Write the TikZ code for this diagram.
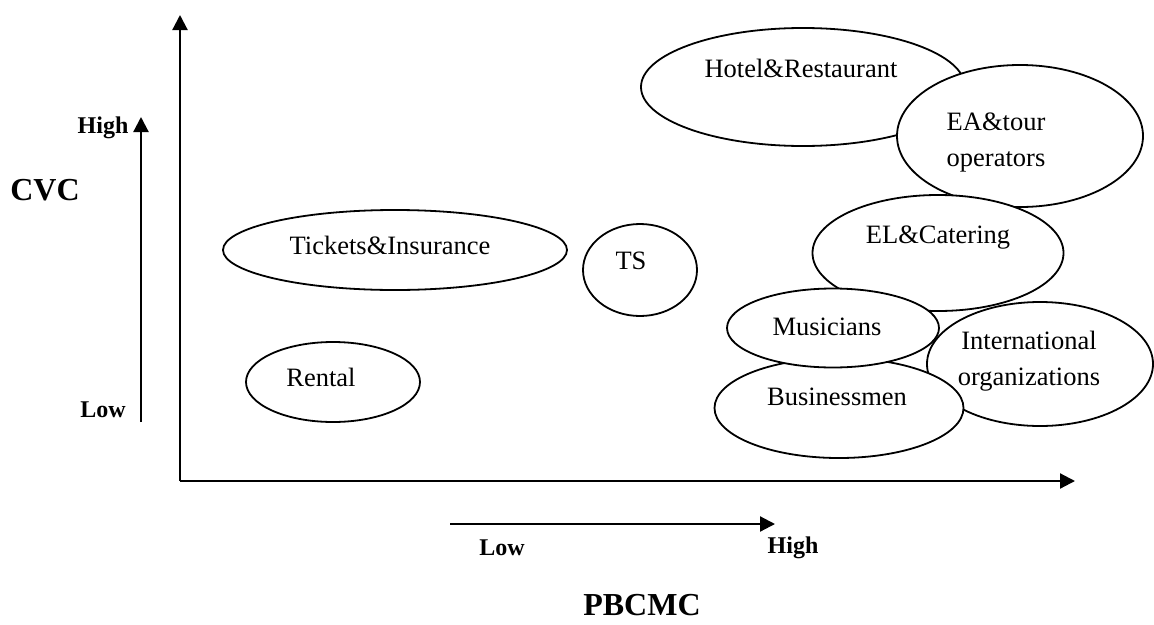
\documentclass[tikz,border=0pt]{standalone}
\usepackage{fontspec}
\setmainfont{Liberation Serif}
\usetikzlibrary{shapes.geometric,arrows.meta}
\tikzset{
  bubble/.style={ellipse,draw,line width=1.8pt,fill=white,inner sep=0pt},
  btxt/.style={inner sep=0pt,align=center,font=\fontsize{26.5}{36}\selectfont},
  axis/.style={line width=2.2pt,-{Triangle[length=15pt,width=15pt]}},
  small/.style={inner sep=0pt,font=\fontsize{24}{28}\selectfont\bfseries},
  big/.style={inner sep=0pt,font=\fontsize{32}{36}\selectfont\bfseries}
}
\begin{document}
\begin{tikzpicture}[x=1pt,y=-1pt]
\useasboundingbox (0,0) rectangle (1154,624);
% axes
\coordinate (O) at (180,481);
\coordinate (Ytip) at (180,15);
\coordinate (Xtip) at (1075,481);
\draw[axis] (O) -- (Ytip);
\draw[axis] (O) -- (Xtip);
\coordinate (sy0) at (141,422);
\coordinate (sy1) at (141,117);
\draw[axis] (sy0) -- (sy1);
\coordinate (sx0) at (450,524);
\coordinate (sx1) at (775,524);
\draw[axis] (sx0) -- (sx1);
% axis labels
\node[small] (yhigh) at (103,128) {High};
\node[small] (ylow) at (103,410) {Low};
\node[big] (cvc) at (45,190) {CVC};
\node[small] (xlow) at (502,548) {Low};
\node[small] (xhigh) at (793,548) {High};
\node[big] (pbcmc) at (642,605) {PBCMC};
% left bubbles
\node[bubble,minimum width=344pt,minimum height=80pt] (tick) at (395,250) {};
\node[btxt] (tickt) at (390,245) {Tickets\&Insurance};
\node[bubble,minimum width=174pt,minimum height=80pt] (rent) at (333,382) {};
\node[btxt] (rentt) at (321,377) {Rental};
\node[bubble,minimum width=114pt,minimum height=92pt] (ts) at (640,270) {};
\node[btxt] (tst) at (631,261) {TS};
% right bubbles (drawing order matters)
\node[bubble,minimum width=324pt,minimum height=118pt] (hotel) at (803,87) {};
\node[btxt] (hotelt) at (801,68) {Hotel\&Restaurant};
\node[bubble,minimum width=246pt,minimum height=142pt] (ea) at (1020,136) {};
\node[btxt] (eat) at (996,143) {EA\&tour\\operators};
\node[bubble,minimum width=251pt,minimum height=116pt] (el) at (938,253) {};
\node[btxt] (elt) at (938,238) {EL\&Catering};
\node[bubble,minimum width=226pt,minimum height=124pt] (intl) at (1040,364) {};
\node[btxt] (intlt) at (1029,361) {International\\organizations};
\node[bubble,minimum width=249pt,minimum height=100pt] (bus) at (839,408) {};
\node[btxt] (bust) at (837,397) {Businessmen};
\node[bubble,minimum width=212pt,minimum height=79pt] (mus) at (833,328) {};
\node[btxt] (must) at (827,327) {Musicians};
\end{tikzpicture}
\end{document}
